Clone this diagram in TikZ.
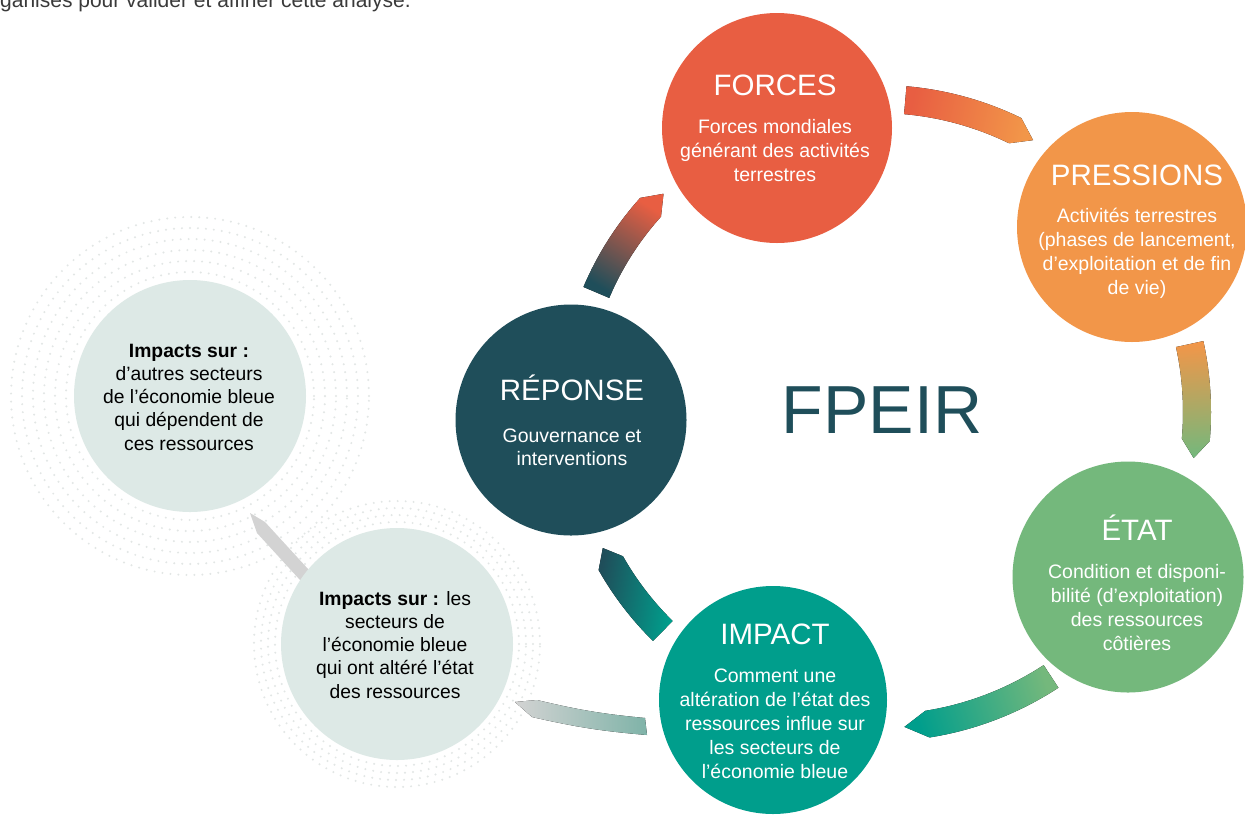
\documentclass[tikz,border=0pt]{standalone}
\usepackage{fontspec}
\setmainfont{Liberation Sans}
\usetikzlibrary{calc}
\definecolor{cforces}{HTML}{E85E42}
\definecolor{cpress}{HTML}{F29649}
\definecolor{cetat}{HTML}{74B87C}
\definecolor{cimpact}{HTML}{009E8C}
\definecolor{crep}{HTML}{1F4E5A}
\definecolor{clight}{HTML}{DDE9E6}
\definecolor{cgrey}{HTML}{D3D3D3}
\definecolor{cgreyteal}{HTML}{7FB3A8}
\definecolor{ctop}{HTML}{3A3A3A}
\definecolor{cdot}{HTML}{E2E6E5}
\newcommand\ringarrow[6]{%
  \fill[#6] ($(C)+(#3:{#1+#2/2})$) arc[start angle=#3, end angle=#4, radius={#1+#2/2}]
    -- ($(C)+(#5:#1)$) -- ($(C)+(#4:{#1-#2/2})$)
    arc[start angle=#4, end angle=#3, radius={#1-#2/2}] -- cycle;}
\newcommand\textlines[6]{%
  \foreach \l [count=\i] in {#6} {
    \node[#5] (#1\i) at (#2, {-#3-(\i-1)*#4}) {\l};
  }}
\tikzset{
  bubble/.style={circle, inner sep=0pt, minimum size=230pt},
  title/.style={text=white, font=\fontsize{29.5}{34}\selectfont, anchor=base, inner sep=0pt},
  body/.style={text=white, font=\fontsize{19.5}{23}\selectfont, anchor=base, inner sep=0pt},
  darkbody/.style={text=black, font=\fontsize{19.3}{23}\selectfont, anchor=base, inner sep=0pt},
  dots/.style={cdot, line width=2.2pt, dash pattern=on 0pt off 8pt, line cap=round},
}
\begin{document}
\begin{tikzpicture}[x=1pt, y=1pt]
\useasboundingbox (0,-815) rectangle (1245,0);
\fill[white] (0,-815) rectangle (1245,0);
\clip (0,-815) rectangle (1245,0);
\coordinate (C) at (878,-412);
\coordinate (UL) at (190,-396);
\coordinate (LL) at (397,-644);
% dotted rings
\foreach \r in {124,135,146,157,168,179} { \draw[dots] (UL) circle[radius=\r]; }
\foreach \r in {122,129,136,143} { \draw[dots] (LL) circle[radius=\r]; }
% grey arrow between left circles
\fill[cgrey] (250,-513) -- (265,-522) -- (330,-593) -- (322,-604) -- (257,-533) -- cycle;
% left circles
\node[bubble, fill=clight, minimum size=232pt] (upl) at (UL) {};
\node[bubble, fill=clight, minimum size=232pt] (lowl) at (LL) {};
% grey arrow from impact
\fill[left color=cgrey, right color=cgreyteal] (515,-702) -- (537,-700) to[bend right=4] (645,-718) -- (647,-735) to[bend left=4] (532,-717) -- cycle;
% main circles
\node[bubble, fill=cforces] (forces) at (777,-128) {};
\node[bubble, fill=cpress] (pressions) at (1132,-227) {};
\node[bubble, fill=cetat, minimum size=231pt] (etat) at (1128,-577) {};
\node[bubble, fill=cimpact, minimum size=228pt] (impact) at (773,-700) {};
\node[bubble, fill=crep, minimum size=231pt] (reponse) at (571,-420) {};
% ring arrows
\ringarrow{306}{28}{157}{138}{134.5}{top color=cforces, bottom color=crep, shading angle=-32}
\ringarrow{313}{28}{85}{64}{60.3}{top color=cpress, bottom color=cforces, shading angle=-102}
\ringarrow{319}{28}{12.3}{-5}{-8.3}{top color=cetat, bottom color=cpress, shading angle=-178}
\ringarrow{316}{27}{-56.8}{-81}{-85.2}{top color=cimpact, bottom color=cetat, shading angle=107}
\ringarrow{307}{28}{225.5}{209.5}{206.3}{top color=crep, bottom color=cimpact, shading angle=80}
% texts
\node[text=ctop, font=\fontsize{21}{25}\selectfont, anchor=base west, inner sep=0pt] (toptext) at (0,-7) {ganisés pour valider et affiner cette analyse.};
\node[text=crep, font=\fontsize{68}{80}\selectfont, anchor=base, inner sep=0pt] (fpeir) at (882,-433) {FPEIR};
\node[title] (forcesT) at (775,-95) {FORCES};
\textlines{forcesL}{775}{133}{24}{body}{{Forces mondiales},{générant des activités},{terrestres}}
\node[title] (pressionsT) at (1137,-185) {PRESSIONS};
\textlines{pressionsL}{1137}{222}{24}{body}{{Activités terrestres},{(phases de lancement,},{d’exploitation et de fin},{de vie)}}
\node[title] (reponseT) at (572,-400) {RÉPONSE};
\textlines{reponseL}{572}{442}{23.5}{body}{{Gouvernance et},{interventions}}
\node[title] (etatT) at (1137,-540) {ÉTAT};
\textlines{etatL}{1137}{578}{24}{body}{{Condition et disponi-},{bilité (d’exploitation)},{des ressources},{côtières}}
\node[title] (impactT) at (775,-644) {IMPACT};
\textlines{impactL}{775}{682}{24.2}{body}{{Comment une},{altération de l’état des},{ressources influe sur},{les secteurs de},{l’économie bleue}}
\textlines{uplL}{189}{357}{23.3}{darkbody}{{\textbf{Impacts sur :}},{d’autres secteurs},{de l’économie bleue},{qui dépendent de},{ces ressources}}
\textlines{lowlL}{395}{605}{23.3}{darkbody}{{\textbf{Impacts sur :} les},{secteurs de},{l’économie bleue},{qui ont altéré l’état},{des ressources}}
\end{tikzpicture}
\end{document}
